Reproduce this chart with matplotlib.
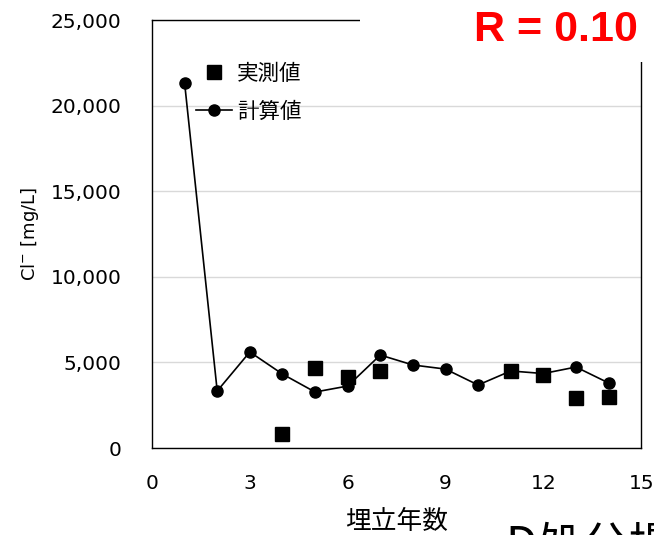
import matplotlib
matplotlib.use('Agg')
import matplotlib.pyplot as plt
from matplotlib.ticker import FuncFormatter
from matplotlib.patches import Rectangle

plt.rcParams['font.family'] = ['Noto Sans CJK JP', 'DejaVu Sans']

# calculated values (line)
calc_x = [1, 2, 3, 4, 5, 6, 7, 8, 9, 10, 11, 12, 13, 14]
calc_y = [21320, 3330, 5610, 4320, 3270, 3620, 5430, 4850, 4610, 3680, 4500, 4350, 4730, 3800]

# measured values (squares)
meas_x = [4, 5, 6, 7, 11, 12, 13, 14]
meas_y = [835, 4690, 4165, 4480, 4480, 4265, 2920, 3000]

xticks = [0, 3, 6, 9, 12, 15]
yticks = [0, 5000, 10000, 15000, 20000, 25000]

fig = plt.figure(figsize=(6.54, 5.35), dpi=100)
ax = fig.add_axes([0.2324, 0.1626, 0.748, 0.800])

ax.plot(meas_x, meas_y, 's', color='black', markersize=9.5, linestyle='none', label='実測値', zorder=3)
ax.plot(calc_x, calc_y, '-o', color='black', markersize=8, linewidth=1.2, label='計算値', zorder=4)

ax.set_xlim(0, 15)
ax.set_ylim(0, 25000)
ax.set_xticks(xticks)
ax.set_yticks(yticks)
ax.yaxis.set_major_formatter(FuncFormatter(lambda v, p: '{:,.0f}'.format(v)))
ax.tick_params(length=0, labelsize=14.5, labelfontfamily='DejaVu Sans')
ax.tick_params(axis='y', pad=22)
ax.tick_params(axis='x', pad=19)
ax.grid(axis='y', color='#d9d9d9', linewidth=1.0)
ax.set_axisbelow(True)
for s in ax.spines.values():
    s.set_color('black')
    s.set_linewidth(1.0)

ax.set_xlabel('埋立年数', fontsize=18.5, labelpad=11)
ax.set_ylabel('Cl$^{-}$ [mg/L]', fontsize=13, labelpad=7, family='DejaVu Sans')

leg = ax.legend(loc='upper left', bbox_to_anchor=(0.072, 0.92), frameon=False, fontsize=15.5,
                handlelength=1.7, handletextpad=0.2, labelspacing=0.75, borderaxespad=0)

# white box over the top-right corner of the frame, behind the R label
fig.patches.append(Rectangle((360 / 654, 1 - 62 / 535), 1, 62 / 535, transform=fig.transFigure,
                             facecolor='white', edgecolor='none', zorder=5))
fig.text(0.850, 0.944, 'R = 0.10', color='red', fontsize=31, fontweight='bold', family='Liberation Sans',
         ha='center', va='center', zorder=6)

fig.text(0.772, -0.047, 'D処分場', fontsize=33, ha='left', va='baseline', color='black')

fig.savefig('out.png', dpi=100)
